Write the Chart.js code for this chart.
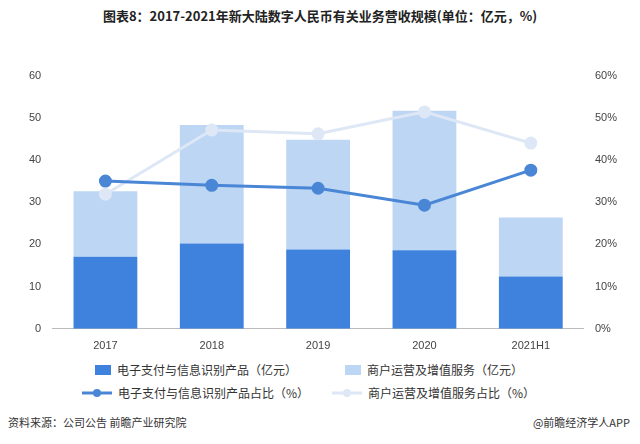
<!DOCTYPE html>
<html><head><meta charset="utf-8">
<script src="https://cdn.jsdelivr.net/npm/chart.js@4"></script>
<style>
body{margin:0;width:640px;height:444px;background:#fff;font-family:"Noto Sans CJK SC",sans-serif;position:relative;overflow:hidden}
#t{position:absolute;top:6px;left:0;width:640px;text-align:center;font-weight:bold;font-size:13px;color:#222}
#c{position:absolute;top:66px;left:8px;width:624px;height:290px}
.lg{position:absolute;font-size:12px;color:#333;display:flex;align-items:center}
.src{position:absolute;top:414px;font-size:11px;color:#333}
</style></head><body>
<div id="t">图表8：2017-2021年新大陆数字人民币有关业务营收规模(单位：亿元，%)</div>
<div id="c"><canvas id="cv"></canvas></div>
<div class="lg" style="left:95px;top:361px"><span style="display:inline-block;width:16px;height:10px;background:#3f82de;margin-right:6px"></span>电子支付与信息识别产品（亿元）</div>
<div class="lg" style="left:345px;top:361px"><span style="display:inline-block;width:16px;height:10px;background:#bdd6f3;margin-right:6px"></span>商户运营及增值服务（亿元）</div>
<div class="lg" style="left:82px;top:384px"><svg width="30" height="10" style="margin-right:6px"><line x1="0" y1="5" x2="30" y2="5" stroke="#4a86d6" stroke-width="3"/><circle cx="15" cy="5" r="4" fill="#4a86d6"/></svg>电子支付与信息识别产品占比（%）</div>
<div class="lg" style="left:332px;top:384px"><svg width="30" height="10" style="margin-right:6px"><line x1="0" y1="5" x2="30" y2="5" stroke="#dde7f5" stroke-width="3"/><circle cx="15" cy="5" r="4" fill="#dde7f5"/></svg>商户运营及增值服务占比（%）</div>
<div class="src" style="left:8px">资料来源：公司公告 前瞻产业研究院</div>
<div class="src" style="right:10px">@前瞻经济学人APP</div>
<script>
const categories=["2017","2018","2019","2020","2021H1"];
const payProducts=[17.1,20.2,18.8,18.6,12.4];
const merchantServices=[15.5,28.1,26.0,33.1,14.0];
const payShare=[35.0,34.0,33.3,29.3,37.6];
const merchantShare=[31.9,47.1,46.2,51.4,44.0];
new Chart(document.getElementById('cv'),{
data:{labels:categories,datasets:[
{type:'line',data:payShare,yAxisID:'y1',borderColor:'#4a86d6',backgroundColor:'#4a86d6',borderWidth:3,pointRadius:5,order:0},
{type:'line',data:merchantShare,yAxisID:'y1',borderColor:'#dde7f5',backgroundColor:'#dde7f5',borderWidth:3,pointRadius:5,order:0},
{type:'bar',data:payProducts,backgroundColor:'#3f82de',stack:'s',barPercentage:0.6,categoryPercentage:1,order:1},
{type:'bar',data:merchantServices,backgroundColor:'#bdd6f3',stack:'s',barPercentage:0.6,categoryPercentage:1,order:1}
]},
options:{responsive:true,maintainAspectRatio:false,animation:false,layout:{padding:{left:18,right:12}},
plugins:{legend:{display:false},tooltip:{enabled:false}},
scales:{
x:{grid:{display:false},border:{color:'#bbb'},ticks:{color:'#444',font:{size:11}}},
y:{stacked:true,min:0,max:60,ticks:{stepSize:10,color:'#444',font:{size:11}},grid:{display:false},border:{display:false}},
y1:{position:'right',min:0,max:60,ticks:{stepSize:10,color:'#444',font:{size:11},callback:v=>v+'%'},grid:{display:false},border:{display:false}}
}}});
</script></body></html>
